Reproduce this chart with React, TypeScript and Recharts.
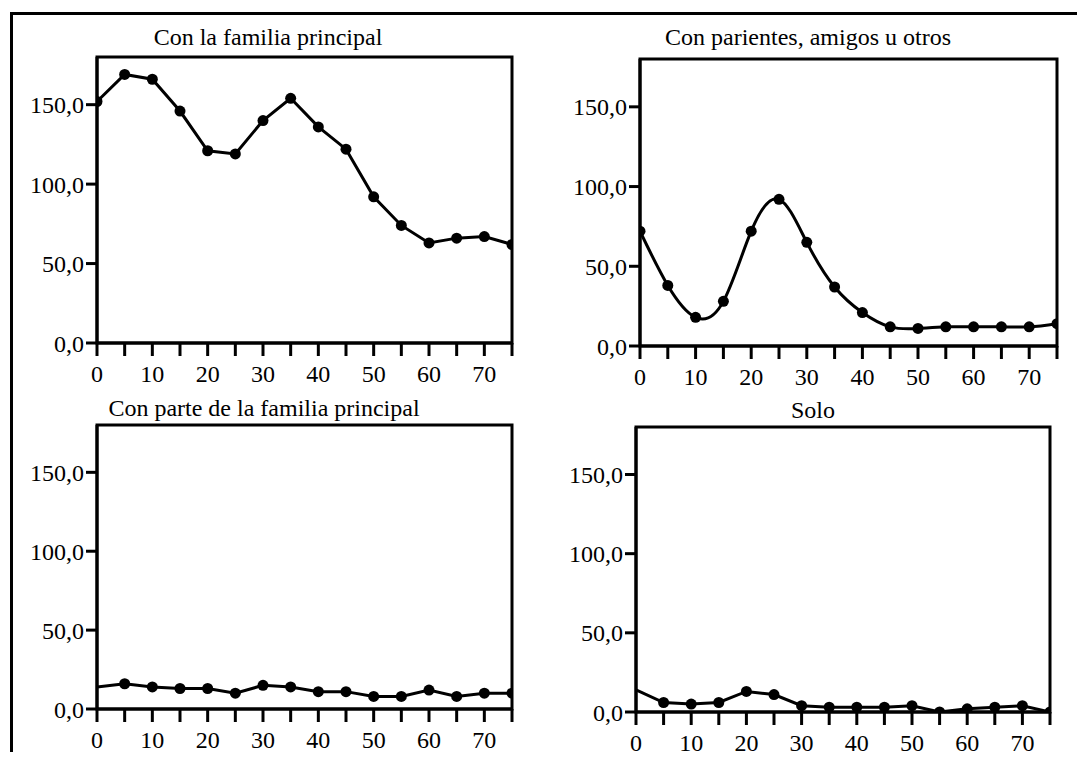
import React from 'react';
import { LineChart, Line, XAxis, YAxis, ReferenceArea } from 'recharts';

// ---- data ----
const ages = [0, 5, 10, 15, 20, 25, 30, 35, 40, 45, 50, 55, 60, 65, 70, 75];
const familiaPrincipal = [152, 169, 166, 146, 121, 119, 140, 154, 136, 122, 92, 74, 63, 66, 67, 62];
const parientesAmigos = [72, 38, 18, 28, 72, 92, 65, 37, 21, 12, 11, 12, 12, 12, 12, 14];
const parteFamilia = [14, 16, 14, 13, 13, 10, 15, 14, 11, 11, 8, 8, 12, 8, 10, 10];
const solo = [14, 6, 5, 6, 13, 11, 4, 3, 3, 3, 4, 0, 2, 3, 4, 0];

const xLabelTicks = [0, 10, 20, 30, 40, 50, 60, 70];
const yTicks = [0, 50, 100, 150];
const yTickLabels = ['0,0', '50,0', '100,0', '150,0'];
const titles = [
  'Con la familia principal',
  'Con parientes, amigos u otros',
  'Con parte de la familia principal',
  'Solo',
];

// ---- layout (page pixels) ----
const panels = [
  { values: familiaPrincipal, curve: 'linear', firstDot: true, L: 97, T: 57, R: 512, B: 343, tx: 268, tb: 45 },
  { values: parientesAmigos, curve: 'natural', firstDot: true, L: 640, T: 59, R: 1057, B: 346, tx: 808, tb: 45 },
  { values: parteFamilia, curve: 'linear', firstDot: false, L: 97, T: 425, R: 512, B: 709, tx: 264, tb: 416 },
  { values: solo, curve: 'linear', firstDot: false, L: 636, T: 427, R: 1050, B: 712, tx: 813, tb: 418 },
];

const FONT = "'Liberation Serif', 'Times New Roman', serif";
const X_TICK_SIZE = 13;
const X_TICK_MARGIN = 9;
const Y_TICK_SIZE = 11;
const Y_TICK_MARGIN = 2;

const XTick = (props: any) => {
  const { x, y, payload } = props;
  const v = payload.value;
  const label = xLabelTicks.includes(v) ? String(v) : '';
  const top = y - X_TICK_MARGIN - X_TICK_SIZE;
  return (
    <g>
      <line x1={x} x2={x} y1={top} y2={top + X_TICK_SIZE} stroke="#000" strokeWidth={3} />
      {label && (
        <text x={x} y={y} dy="0.71em" textAnchor="middle" fill="#000" fontSize={24} fontFamily={FONT}>
          {label}
        </text>
      )}
    </g>
  );
};

const YTick = (props: any) => {
  const { x, y, payload } = props;
  const v = payload.value;
  const label = yTickLabels[yTicks.indexOf(v)];
  const right = x + Y_TICK_MARGIN + Y_TICK_SIZE;
  return (
    <g>
      <line x1={right - Y_TICK_SIZE} x2={right} y1={y} y2={y} stroke="#000" strokeWidth={3} />
      <text x={x} y={y} dy="0.355em" textAnchor="end" fill="#000" fontSize={24} fontFamily={FONT}>
        {label}
      </text>
    </g>
  );
};

function Panel({ p, title }: any) {
  const yW = 100;
  const mTop = 20;
  const mRight = 24;
  const xH = 45;
  const w = p.R - p.L + yW + mRight;
  const h = p.B - p.T + mTop + xH;
  const data = ages.map((a, i) => ({ age: a, v: p.values[i] }));
  const renderDot = (d: any) => {
    if (!p.firstDot && d.index === 0) return <g key={`d${d.index}`} />;
    return <circle key={`d${d.index}`} cx={d.cx} cy={d.cy} r={5.5} fill="#000" stroke="none" />;
  };
  return (
    <>
      <div
        style={{
          position: 'absolute',
          left: p.tx,
          top: p.tb - 20,
          transform: 'translateX(-50%)',
          fontFamily: FONT,
          fontSize: 24,
          lineHeight: '24px',
          whiteSpace: 'nowrap',
          color: '#000',
        }}
      >
        {title}
      </div>
      <div style={{ position: 'absolute', left: p.L - yW, top: p.T - mTop }}>
        <LineChart width={w} height={h} data={data} margin={{ top: mTop, right: mRight, bottom: 0, left: 0 }}>
          <XAxis
            dataKey="age"
            type="number"
            domain={[0, 75]}
            ticks={ages}
            interval={0}
            allowDataOverflow
            height={xH}
            tick={<XTick />}
            tickSize={X_TICK_SIZE}
            tickMargin={X_TICK_MARGIN}
            axisLine={{ stroke: '#000', strokeWidth: 3 }}
            tickLine={false}
          />
          <YAxis
            type="number"
            domain={[0, 180]}
            ticks={yTicks}
            interval={0}
            allowDataOverflow
            width={yW}
            tick={<YTick />}
            tickSize={Y_TICK_SIZE}
            tickMargin={Y_TICK_MARGIN}
            axisLine={{ stroke: '#000', strokeWidth: 3 }}
            tickLine={false}
          />
          <ReferenceArea x1={0} x2={75} y1={0} y2={180} fill="none" fillOpacity={0} stroke="#000" strokeWidth={3} />
          <Line
            dataKey="v"
            type={p.curve}
            stroke="#000"
            strokeWidth={3}
            dot={renderDot}
            activeDot={false}
            isAnimationActive={false}
          />
        </LineChart>
      </div>
    </>
  );
}

export default function App() {
  return (
    <div style={{ position: 'absolute', left: 0, top: 0, width: 1077, height: 760, background: '#fff' }}>
      <div style={{ position: 'absolute', left: 10, top: 12, width: 1067, height: 3, background: '#000' }} />
      <div style={{ position: 'absolute', left: 10, top: 12, width: 3, height: 740, background: '#000' }} />
      {panels.map((p, i) => (
        <Panel key={i} p={p} title={titles[i]} />
      ))}
    </div>
  );
}
